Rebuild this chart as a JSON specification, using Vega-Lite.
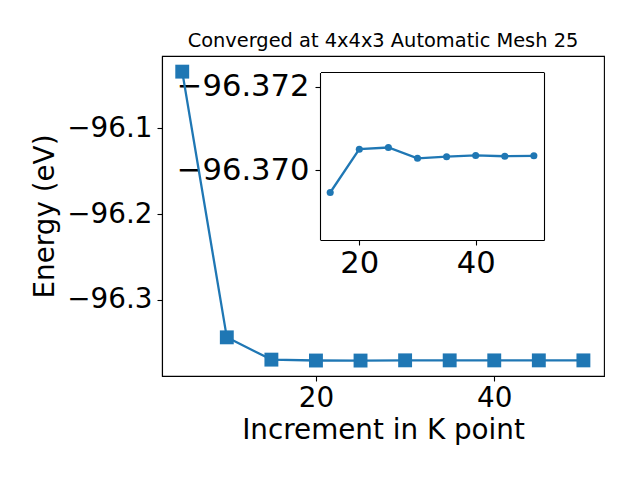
{
  "$schema": "https://vega.github.io/schema/vega-lite/v6.json",
  "autosize": {"type": "none"},
  "padding": {"left": 162, "top": 56, "right": 36, "bottom": 104},
  "width": 442,
  "height": 320,
  "background": "white",
  "config": {
    "font": "DejaVu Sans",
    "view": {"stroke": "black", "strokeWidth": 1.1},
    "axis": {
      "grid": false,
      "domainColor": "black",
      "domainWidth": 1.1,
      "tickColor": "black",
      "tickWidth": 1.1,
      "tickSize": 5,
      "labelColor": "black",
      "titleColor": "black",
      "labelFont": "DejaVu Sans",
      "titleFont": "DejaVu Sans",
      "titleFontWeight": "normal"
    }
  },
  "title": {
    "text": "Converged at 4x4x3 Automatic Mesh 25",
    "fontSize": 19.4,
    "fontWeight": "normal",
    "font": "DejaVu Sans",
    "color": "black",
    "anchor": "middle",
    "frame": "group",
    "baseline": "alphabetic",
    "offset": -10
  },
  "data": {
    "values": [
      {"k": 5, "energy": -96.034},
      {"k": 10, "energy": -96.3435},
      {"k": 15, "energy": -96.36946},
      {"k": 20, "energy": -96.3705},
      {"k": 25, "energy": -96.37054},
      {"k": 30, "energy": -96.37028},
      {"k": 35, "energy": -96.37032},
      {"k": 40, "energy": -96.37035},
      {"k": 45, "energy": -96.37033},
      {"k": 50, "energy": -96.37034}
    ]
  },
  "layer": [
    {
      "encoding": {
        "x": {
          "field": "k", "type": "quantitative",
          "scale": {"domain": [2.73, 52.31], "nice": false, "zero": false},
          "axis": {"orient": "bottom", "values": [20, 40], "labelFontSize": 27.8, "labelPadding": 3, "title": "Increment in K point", "titleFontSize": 27.8, "titlePadding": 5}
        },
        "y": {
          "field": "energy", "type": "quantitative",
          "scale": {"domain": [-96.38853, -96.01578], "nice": false, "zero": false},
          "axis": {"orient": "left", "values": [-96.3, -96.2, -96.1], "format": ".1f", "labelFontSize": 27.8, "labelPadding": 5, "title": "Energy (eV)", "titleFontSize": 27.8, "titlePadding": 7}
        }
      },
      "layer": [
        {"mark": {"type": "line", "color": "#1f77b4", "strokeWidth": 2.3}},
        {"mark": {"type": "point", "shape": "square", "filled": true, "color": "#1f77b4", "size": 193, "opacity": 1}}
      ]
    },
    {
      "transform": [{"filter": "datum.k >= 15"}],
      "encoding": {
        "x": {
          "field": "k", "type": "quantitative",
          "scale": {"domain": [13.33, 51.74], "range": [158.5, 382], "nice": false, "zero": false},
          "axis": {"orient": "bottom", "offset": -136, "values": [20, 40], "labelFontSize": 30.6, "labelPadding": 3, "title": null}
        },
        "y": {
          "field": "energy", "type": "quantitative",
          "scale": {"domain": [-96.37234, -96.36832], "range": [16.5, 184], "nice": false, "zero": false},
          "axis": {"orient": "left", "offset": -158, "values": [-96.372, -96.370], "format": ".3f", "labelFontSize": 30.6, "labelPadding": 6, "title": null}
        }
      },
      "layer": [
        {"mark": {"type": "line", "color": "#1f77b4", "strokeWidth": 2.3}},
        {"mark": {"type": "point", "shape": "circle", "filled": true, "color": "#1f77b4", "size": 50, "opacity": 1}}
      ]
    },
    {
      "transform": [{"filter": "datum.k >= 15"}],
      "mark": {"type": "point", "opacity": 0},
      "encoding": {
        "x": {
          "field": "k", "type": "quantitative",
          "scale": {"domain": [13.33, 51.74], "range": [158.5, 382], "nice": false, "zero": false},
          "axis": {"orient": "top", "offset": -16, "ticks": false, "labels": false, "title": null}
        },
        "y": {
          "field": "energy", "type": "quantitative",
          "scale": {"domain": [-96.37234, -96.36832], "range": [16.5, 184], "nice": false, "zero": false},
          "axis": {"orient": "right", "offset": -60, "ticks": false, "labels": false, "title": null}
        }
      }
    }
  ],
  "resolve": {
    "scale": {"x": "independent", "y": "independent"},
    "axis": {"x": "independent", "y": "independent"}
  }
}
